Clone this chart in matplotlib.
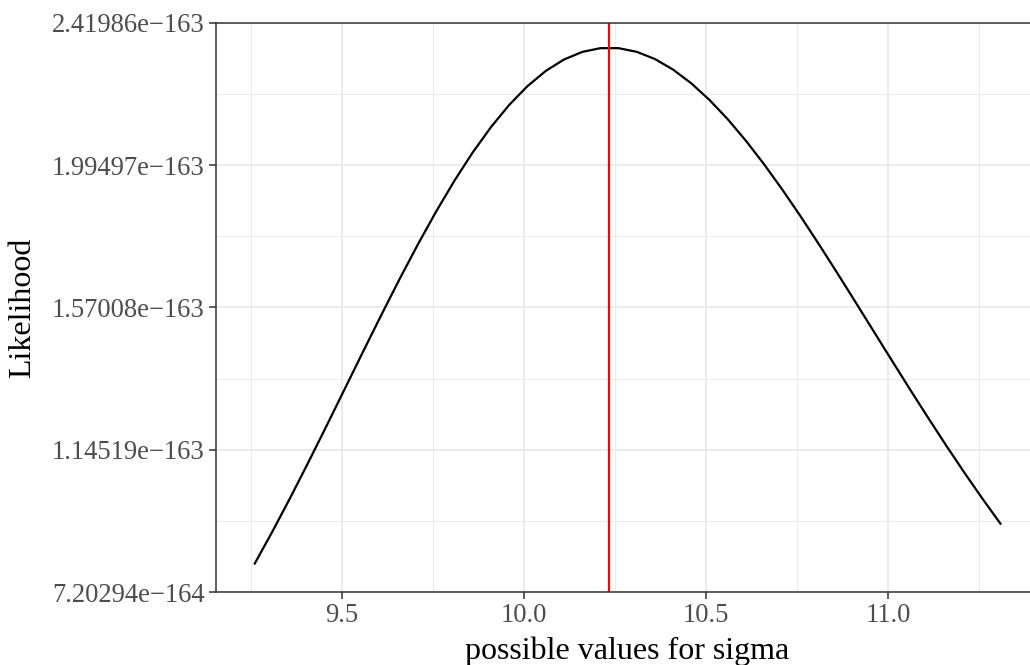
import matplotlib
matplotlib.use("Agg")
import matplotlib.pyplot as plt
from matplotlib.ticker import FixedLocator, FixedFormatter

# ---- data ----
sigma_values = [9.26, 9.31, 9.36, 9.41, 9.46, 9.51, 9.56, 9.61, 9.66, 9.71,
                9.76, 9.81, 9.86, 9.91, 9.96, 10.01, 10.06, 10.11, 10.16, 10.21,
                10.26, 10.31, 10.36, 10.41, 10.46, 10.51, 10.56, 10.61, 10.66, 10.71,
                10.76, 10.81, 10.86, 10.91, 10.96, 11.01, 11.06, 11.11, 11.16, 11.21,
                11.26, 11.31]
likelihood = [0.8026, 0.9013, 1.0043, 1.1109, 1.2200, 1.3305, 1.4411, 1.5504, 1.6573, 1.7603,
              1.8582, 1.9497, 2.0338, 2.1093, 2.1754, 2.2313, 2.2766, 2.3107, 2.3334, 2.3447,
              2.3447, 2.3337, 2.3121, 2.2804, 2.2393, 2.1895, 2.1320, 2.0675, 1.9970, 1.9214,
              1.8417, 1.7587, 1.6735, 1.5868, 1.4993, 1.4120, 1.3254, 1.2401, 1.1566, 1.0755,
              0.9971, 0.9217]
likelihood = [v * 1e-163 for v in likelihood]
sigma_hat = 10.235

x_ticks = [9.5, 10.0, 10.5, 11.0]
x_tick_labels = ["9.5", "10.0", "10.5", "11.0"]
x_minor = [9.25, 9.75, 10.25, 10.75, 11.25]
y_ticks = [7.20294e-164, 1.14519e-163, 1.57008e-163, 1.99497e-163, 2.41986e-163]
y_tick_labels = ["7.20294e\u2212164", "1.14519e\u2212163", "1.57008e\u2212163",
                 "1.99497e\u2212163", "2.41986e\u2212163"]

plt.rcParams['font.family'] = ['Liberation Serif', 'DejaVu Serif']

W, H = 1030, 665
fig = plt.figure(figsize=(W / 100, H / 100), dpi=100)
left, right, top, bottom = 216, 1039, 23, 592
ax = fig.add_axes([left / W, (H - bottom) / H, (right - left) / W, (bottom - top) / H])

ax.set_xlim(9.155, 11.414)
ax.set_ylim(y_ticks[0], y_ticks[-1])

grid_c = "#EBEBEB"
for xm in x_minor:
    ax.axvline(xm, color=grid_c, lw=0.7, zorder=0)
for xv in x_ticks:
    ax.axvline(xv, color=grid_c, lw=1.4, zorder=0)
y_minor = [(a + b) / 2 for a, b in zip(y_ticks[:-1], y_ticks[1:])]
for ym in y_minor:
    ax.axhline(ym, color=grid_c, lw=0.7, zorder=0)
for yv in y_ticks:
    ax.axhline(yv, color=grid_c, lw=1.4, zorder=0)

ax.plot(sigma_values, likelihood, color="black", lw=1.6, zorder=3,
        solid_capstyle='butt', solid_joinstyle='round')
ax.axvline(sigma_hat, color="#FF0000", lw=1.6, zorder=4)

ax.xaxis.set_major_locator(FixedLocator(x_ticks))
ax.xaxis.set_major_formatter(FixedFormatter(x_tick_labels))
ax.yaxis.set_major_locator(FixedLocator(y_ticks))
ax.yaxis.set_major_formatter(FixedFormatter(y_tick_labels))

for s in ax.spines.values():
    s.set_color("#333333")
    s.set_linewidth(1.1)
    s.set_zorder(5)

ax.tick_params(axis='both', which='major', length=5, width=1.1, color="#333333",
               labelcolor="#4D4D4D", labelsize=19.2, pad=3)

ax.set_xlabel("possible values for sigma", fontsize=23, color="black")
ax.set_ylabel("Likelihood", fontsize=23, color="black")
ax.xaxis.set_label_coords(0.5, -0.1037)
ax.xaxis.label.set_va('center')
ax.yaxis.set_label_coords(-0.2345, 0.5)
ax.yaxis.label.set_va('center')
ax.yaxis.label.set_ha('center')

fig.savefig("out.png", dpi=100)
